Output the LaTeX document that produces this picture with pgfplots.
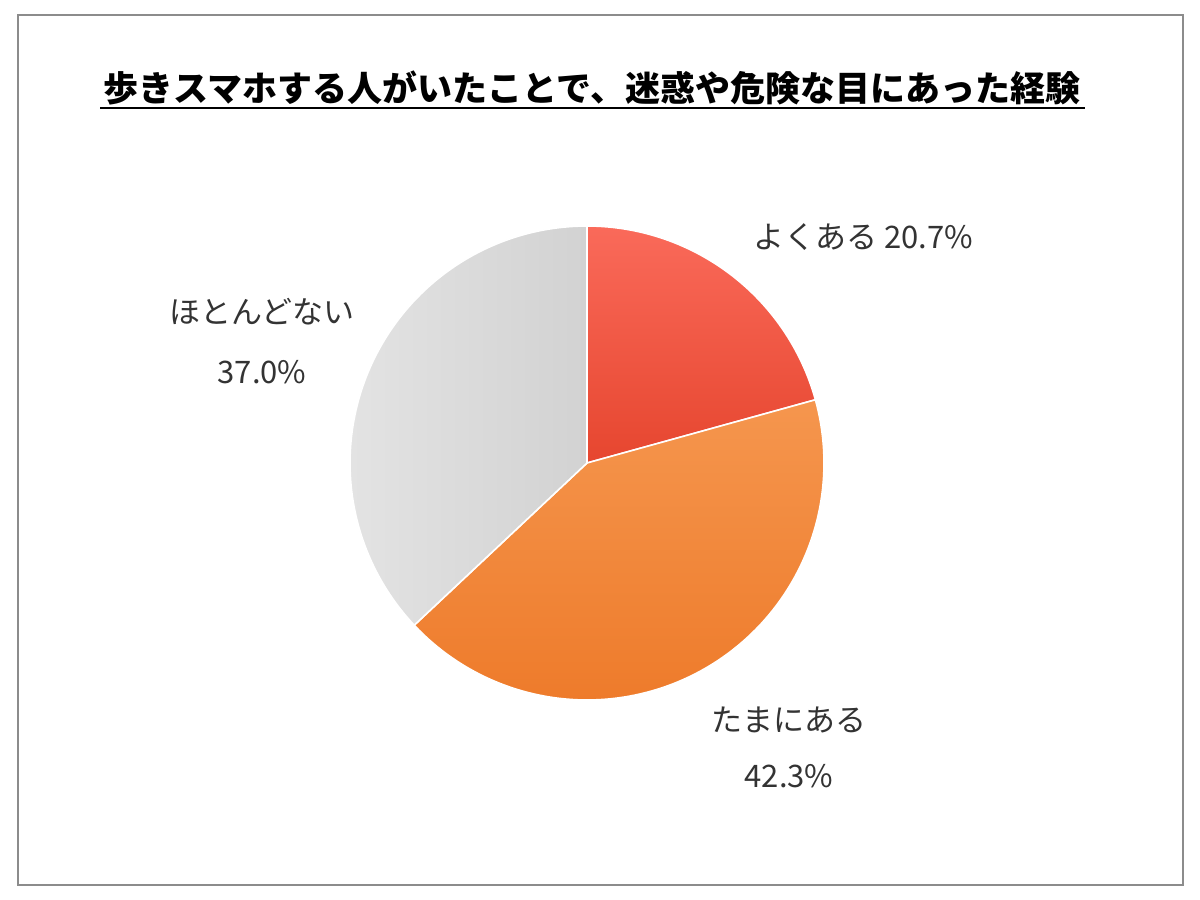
\documentclass[border=0pt]{standalone}
\usepackage{pgfplots}
\pgfplotsset{compat=1.18}
\usepackage{pgfplotstable}
\usepackage{fontspec}
\setmainfont{Noto Sans CJK JP}

\pgfplotstableread{
label value
yoku 20.7
tama 42.3
hoto 37.0
}\piedata

\definecolor{txt}{HTML}{333333}
\definecolor{redA}{HTML}{FA6A5A}
\definecolor{redB}{HTML}{E6462F}
\definecolor{orA}{HTML}{F5964E}
\definecolor{orB}{HTML}{EE7B2B}
\definecolor{grA}{HTML}{E3E3E3}
\definecolor{grB}{HTML}{D2D2D2}

\pgfplotstablegetelem{0}{value}\of\piedata \let\va\pgfplotsretval
\pgfplotstablegetelem{1}{value}\of\piedata \let\vb\pgfplotsretval
\pgfplotstablegetelem{2}{value}\of\piedata \let\vc\pgfplotsretval
\pgfmathsetmacro\aA{90-3.6*\va}
\pgfmathsetmacro\aB{\aA-3.6*\vb}
\pgfmathsetmacro\aC{\aB-3.6*\vc}

\begin{document}
\begin{tikzpicture}
\begin{axis}[name=pie, at={(293.5pt,218.5pt)}, anchor=center, width=237pt, height=237pt,
  scale only axis, xmin=-1, xmax=1, ymin=-1, ymax=1, clip=false, hide axis]
\addplot[draw=white, line width=0.8pt, top color=redA, bottom color=redB,
  domain=\aA:90, samples=60] ({cos(x)},{sin(x)}) -- (axis cs:0,0) -- cycle;
\addplot[draw=white, line width=0.8pt, top color=orA, bottom color=orB,
  domain=\aB:\aA, samples=100] ({cos(x)},{sin(x)}) -- (axis cs:0,0) -- cycle;
\addplot[draw=white, line width=0.8pt, left color=grA, right color=grB,
  domain=\aC:\aB, samples=100] ({cos(x)},{sin(x)}) -- (axis cs:0,0) -- cycle;
\end{axis}
\begin{scope}[x=0.5pt,y=0.5pt]
\path[use as bounding box] (0,0) rectangle (1200,900);
\draw[black!45, line width=1pt] (18,15) rectangle (1183,885);
\node[text=black, font=\fontsize{17.5}{20}\selectfont\bfseries, inner sep=0pt] (T) at (592,812) {歩きスマホする人がいたことで、迷惑や危険な目にあった経験};
\draw[black, line width=1.2pt] (100,792) -- (1085,792);
\begin{scope}[every node/.style={text=txt, font=\fontsize{15.5}{18}\selectfont, inner sep=0pt}]
\node at (863,663) {よくある 20.7\%};
\node at (262,588) {ほとんどない};
\node at (262,528) {37.0\%};
\node at (789,180) {たまにある};
\node at (789,124) {42.3\%};
\end{scope}
\end{scope}
\end{tikzpicture}
\end{document}
